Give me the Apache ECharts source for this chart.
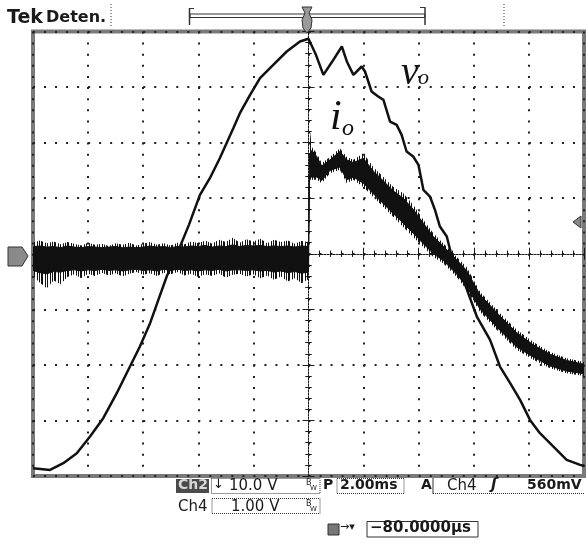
<!DOCTYPE html>
<html>
<head>
<meta charset="utf-8">
<script src="https://cdn.jsdelivr.net/npm/echarts/dist/echarts.min.js"></script>
<style>
  html, body { margin: 0; padding: 0; background: #fff; }
  #scope { width: 586px; height: 543px; }
</style>
</head>
<body>
<div id="scope"></div>
<script>
// time in ms from trigger (2 ms/div), amplitude in divisions
const voT = [-10, -9.38, -8.9, -8.41, -7.93, -7.45, -6.96, -6.48, -6.12, -5.75, -5.45, -5.14, -4.77, -4.34,
  -3.94, -3.58, -3.22, -2.73, -2.49, -2.12, -1.76, -1.28, -0.79, -0.31, 0,
  0.27, 0.54, 0.85, 1.21, 1.4, 1.63, 1.93, 2.05, 2.29, 2.53, 2.72, 2.96, 3.2, 3.38, 3.56, 3.8, 3.99,
  4.17, 4.41, 4.59, 4.77, 5.02, 5.2, 5.62, 6.11, 6.59, 6.95, 7.32, 7.68, 8.04, 8.4, 8.89, 9.37, 9.86, 10];
const voV = [-3.86, -3.89, -3.77, -3.59, -3.29, -2.96, -2.51, -2.03, -1.67, -1.25, -0.83, -0.4, 0, 0.52,
  1.06, 1.36, 1.72, 2.26, 2.53, 2.86, 3.16, 3.4, 3.64, 3.82, 3.87,
  3.58, 3.22, 3.45, 3.73, 3.45, 3.22, 3.37, 3.28, 2.92, 2.83, 2.77, 2.38, 2.32, 2.14, 1.84, 1.75, 1.6,
  1.15, 1.03, 0.79, 0.49, 0.31, -0.05, -0.47, -1.13, -1.55, -2.03, -2.33, -2.63, -2.99, -3.23, -3.47, -3.71, -3.8, -3.82];

// i_o noise band: time, spike extent (hi/lo) and dense core (coreHi/coreLo)
const ioT = [-10, -9.75, -9.5, -9.25, -9, -8.75, -8.5, -8.25, -8, -7.75, -7.5, -7.25, -7, -6.75, -6.5, -6.25,
  -6, -5.75, -5.5, -5.25, -5, -4.75, -4.5, -4.25, -4, -3.75, -3.5, -3.25, -3, -2.75, -2.5, -2.25,
  -2, -1.75, -1.5, -1.25, -1, -0.75, -0.5, -0.25, 0,
  0.04, 0.12, 0.3, 0.48, 0.78, 1.14, 1.39, 1.63, 1.99, 2.35, 2.72, 3.08, 3.44, 3.8, 4.17, 4.53, 4.89,
  5.38, 5.74, 6.23, 6.95, 7.56, 8.16, 8.77, 9.37, 10];
const ioHi = [0.2, 0.24, 0.19, 0.22, 0.17, 0.21, 0.18, 0.15, 0.2, 0.16, 0.18, 0.14, 0.19, 0.16, 0.2, 0.15,
  0.18, 0.21, 0.16, 0.19, 0.15, 0.2, 0.17, 0.22, 0.19, 0.24, 0.18, 0.25, 0.21, 0.29, 0.2, 0.26,
  0.22, 0.27, 0.19, 0.25, 0.21, 0.24, 0.18, 0.23, 0.21,
  2.28, 1.92, 1.81, 1.63, 1.74, 1.9, 1.74, 1.69, 1.81, 1.56, 1.38, 1.2, 1.09, 0.88, 0.61, 0.37, 0.19,
  -0.06, -0.24, -0.69, -1.07, -1.37, -1.59, -1.77, -1.88, -1.95];
const ioLo = [-0.4, -0.52, -0.62, -0.48, -0.55, -0.42, -0.37, -0.44, -0.36, -0.4, -0.34, -0.39, -0.35, -0.41, -0.36, -0.33,
  -0.38, -0.35, -0.4, -0.34, -0.37, -0.33, -0.39, -0.36, -0.42, -0.37, -0.4, -0.35, -0.43, -0.38, -0.36, -0.41,
  -0.37, -0.44, -0.39, -0.47, -0.41, -0.5, -0.44, -0.53, -0.46,
  1.33, 1.33, 1.33, 1.27, 1.45, 1.51, 1.27, 1.33, 1.2, 1.02, 0.84, 0.66, 0.48, 0.3, 0.12, -0.06, -0.17,
  -0.42, -0.65, -1.05, -1.43, -1.73, -1.91, -2.06, -2.15, -2.2];
const ioCoreHi = [0.13, 0.14, 0.12, 0.13, 0.11, 0.14, 0.12, 0.11, 0.13, 0.12, 0.11, 0.12, 0.13, 0.11, 0.12, 0.11,
  0.12, 0.14, 0.12, 0.13, 0.11, 0.13, 0.12, 0.14, 0.13, 0.15, 0.12, 0.14, 0.13, 0.16, 0.13, 0.15,
  0.14, 0.15, 0.13, 0.14, 0.13, 0.14, 0.12, 0.14, 0.13,
  1.8, 1.86, 1.75, 1.58, 1.69, 1.84, 1.69, 1.64, 1.72, 1.49, 1.31, 1.13, 1.0, 0.8, 0.55, 0.31, 0.14,
  -0.11, -0.3, -0.74, -1.12, -1.42, -1.64, -1.81, -1.92, -1.99];
const ioCoreLo = [-0.3, -0.34, -0.36, -0.32, -0.33, -0.3, -0.29, -0.31, -0.29, -0.3, -0.28, -0.3, -0.29, -0.31, -0.29, -0.28,
  -0.3, -0.29, -0.31, -0.28, -0.3, -0.28, -0.3, -0.29, -0.31, -0.29, -0.3, -0.28, -0.31, -0.29, -0.29, -0.3,
  -0.29, -0.31, -0.3, -0.33, -0.31, -0.34, -0.32, -0.35, -0.33,
  1.38, 1.38, 1.38, 1.32, 1.5, 1.56, 1.33, 1.38, 1.27, 1.08, 0.9, 0.72, 0.55, 0.37, 0.18, 0.0, -0.12,
  -0.37, -0.59, -1.0, -1.38, -1.68, -1.86, -2.02, -2.11, -2.16];

const chart = echarts.init(document.getElementById('scope'), null, { renderer: 'canvas' });

const ink = '#1a1a1a';
const mono = '"DejaVu Sans", sans-serif';

// vertical hair pattern for the noisy fringe of the current trace
const hair = document.createElement('canvas');
hair.width = 13;
hair.height = 4;
const hctx = hair.getContext('2d');
hctx.fillStyle = '#111';
[0, 2, 3, 6, 8, 11].forEach((x) => hctx.fillRect(x, 0, 1, 4));

const gridBox = { left: 33, top: 31.5, right: 2, bottom: 67 };

const xAxisBase = {
  type: 'value', min: -10, max: 10, interval: 2,
  axisLabel: { show: false },
  axisLine: { show: false },
  splitLine: { show: false }
};
const yAxisBase = {
  type: 'value', min: -4, max: 4, interval: 1,
  axisLabel: { show: false },
  axisLine: { show: false },
  splitLine: { show: false }
};
const edgeTick = {
  axisTick: { show: true, inside: true, length: 6, lineStyle: { color: ink, width: 1 } },
  minorTick: { show: true, splitNumber: 5, length: 3, lineStyle: { color: ink, width: 1 } }
};
const crossTick = (inside) => ({
  axisTick: { show: true, inside: inside, length: 4, lineStyle: { color: ink, width: 1 } },
  minorTick: { show: true, splitNumber: 5, length: 3, lineStyle: { color: ink, width: 1 } }
});

function txt(text, left, top, size, extra) {
  return {
    type: 'text', left: left, top: top, z: 10,
    style: Object.assign({ text: text, font: 'bold ' + size + 'px ' + mono, fill: ink }, extra || {})
  };
}
function box(x, y, w, h, dash) {
  return {
    type: 'rect', shape: { x: x, y: y, width: w, height: h }, z: 9,
    style: { fill: 'none', stroke: '#333', lineWidth: 1, lineDash: dash ? [1, 1] : null }
  };
}
function seg(x1, y1, x2, y2, w, dash) {
  return {
    type: 'line', shape: { x1: x1, y1: y1, x2: x2, y2: y2 }, z: 9,
    style: { stroke: '#333', lineWidth: w || 1, lineDash: dash || null }
  };
}
function band(api, top, bottom) {
  const pts = [];
  for (let i = 0; i < ioT.length; i++) pts.push(api.coord([ioT[i], top[i]]));
  for (let j = ioT.length - 1; j >= 0; j--) pts.push(api.coord([ioT[j], bottom[j]]));
  return pts;
}

chart.setOption({
  animation: false,
  backgroundColor: '#fff',
  grid: [
    Object.assign({ show: true, borderColor: '#7a7a7a', borderWidth: 4 }, gridBox),
    Object.assign({}, gridBox),
    Object.assign({}, gridBox)
  ],
  xAxis: [
    Object.assign({}, xAxisBase, edgeTick, {
      gridIndex: 0, position: 'bottom',
      splitLine: { show: true, lineStyle: { color: '#222', width: 2, type: [2, 9.11] } }
    }),
    Object.assign({}, xAxisBase, edgeTick, { gridIndex: 0, position: 'top' }),
    Object.assign({}, xAxisBase, crossTick(true), {
      gridIndex: 1,
      axisLine: { show: true, onZero: true, lineStyle: { color: ink, width: 1, type: [2, 1] } }
    }),
    Object.assign({}, xAxisBase, crossTick(false), {
      gridIndex: 2, axisLine: { show: false, onZero: true }
    })
  ],
  yAxis: [
    Object.assign({}, yAxisBase, edgeTick, {
      gridIndex: 0, position: 'left',
      splitLine: { show: true, lineStyle: { color: '#222', width: 2, type: [2, 9.02] } }
    }),
    Object.assign({}, yAxisBase, edgeTick, { gridIndex: 0, position: 'right' }),
    Object.assign({}, yAxisBase, crossTick(true), {
      gridIndex: 1,
      axisLine: { show: true, onZero: true, lineStyle: { color: ink, width: 1, type: [2, 1] } }
    }),
    Object.assign({}, yAxisBase, crossTick(false), {
      gridIndex: 2, axisLine: { show: false, onZero: true }
    })
  ],
  series: [
    {
      name: 'io',
      type: 'custom',
      xAxisIndex: 0, yAxisIndex: 0,
      clip: true,
      data: [[0, 0]],
      renderItem: function (params, api) {
        return {
          type: 'group',
          children: [
            {
              type: 'polygon',
              shape: { points: band(api, ioHi, ioLo) },
              style: { fill: { image: hair, repeat: 'repeat' }, stroke: null }
            },
            {
              type: 'polygon',
              shape: { points: band(api, ioCoreHi, ioCoreLo) },
              style: { fill: '#111', stroke: '#111', lineWidth: 1 }
            }
          ]
        };
      },
      z: 3
    },
    {
      name: 'vo',
      type: 'line',
      xAxisIndex: 0, yAxisIndex: 0,
      data: voT.map((t, i) => [t, voV[i]]),
      showSymbol: false,
      lineStyle: { color: '#111', width: 2.5 },
      z: 4
    }
  ],
  graphic: [
    // header
    txt('Tek', 7, 9, 19),
    txt('Deten.', 46, 10, 16),
    seg(111, 4, 111, 27, 1, [1, 2]),
    seg(504, 4, 504, 27, 1, [1, 2]),
    // record bracket + trigger position marker
    box(190, 14, 235, 3.5, false),
    seg(189.5, 8, 189.5, 25, 1.5),
    seg(189.5, 8.5, 194, 8.5, 1),
    seg(425, 7, 425, 25, 1.5),
    seg(420, 7.5, 425, 7.5, 1),
    {
      type: 'polygon', z: 11,
      shape: { points: [[302, 7], [312, 7], [309, 13], [312, 20], [311, 28], [307, 33], [303, 28], [302, 20], [305, 13]] },
      style: { fill: '#9a9a9a', stroke: '#333', lineWidth: 1 }
    },
    // channel 2 ground marker
    {
      type: 'polygon', z: 11,
      shape: { points: [[8, 247], [22, 247], [28, 256], [22, 266], [8, 266]] },
      style: { fill: '#8a8a8a', stroke: '#333', lineWidth: 1 }
    },
    txt('2', 11, 248, 13, { fill: '#fff' }),
    // trigger level marker
    {
      type: 'polygon', z: 11,
      shape: { points: [[573, 222], [581, 216], [581, 228]] },
      style: { fill: '#888', stroke: '#333', lineWidth: 1 }
    },
    // trace labels
    { type: 'text', left: 401, top: 53, z: 12, style: { text: 'v', font: 'italic 40px "Liberation Serif", serif', fill: '#111' } },
    { type: 'text', left: 418, top: 67, z: 12, style: { text: 'o', font: 'italic 22px "Liberation Serif", serif', fill: '#111' } },
    { type: 'text', left: 330, top: 97, z: 12, style: { text: 'i', font: 'italic 42px "Liberation Serif", serif', fill: '#111' } },
    { type: 'text', left: 342, top: 117, z: 12, style: { text: 'o', font: 'italic 24px "Liberation Serif", serif', fill: '#111' } },
    // readout row 1
    { type: 'rect', shape: { x: 176, y: 479, width: 33, height: 14 }, z: 9, style: { fill: '#4a4a4a' } },
    txt('Ch2', 178, 478.5, 14, { fill: '#d8d8d8' }),
    box(211.5, 478.5, 108.5, 15, true),
    txt('\u2193', 213, 478.5, 13, { font: '13px ' + mono }),
    txt('10.0 V', 229, 478.5, 14, { font: '15px ' + mono }),
    txt('B', 306, 479, 8, { font: '8px ' + mono }),
    txt('W', 310, 485, 7, { font: '7px ' + mono }),
    txt('P', 323, 478.5, 14),
    box(337, 478.5, 67, 15, true),
    txt('2.00ms', 340, 478.5, 14),
    txt('A', 421, 478.5, 14),
    seg(433, 478, 433, 494, 1),
    seg(433, 493.5, 585, 493.5, 1, [1, 1]),
    txt('Ch4', 447, 478.5, 14, { font: '15px ' + mono }),
    txt('\u0283', 491, 478, 15, { font: 'bold italic 15px ' + mono }),
    txt('560mV', 527, 478.5, 14),
    // readout row 2
    txt('Ch4', 178, 499.5, 14, { font: '15px ' + mono }),
    box(212, 498.5, 108, 15, true),
    txt('1.00 V', 231, 499.5, 14, { font: '15px ' + mono }),
    txt('B', 306, 500, 8, { font: '8px ' + mono }),
    txt('W', 310, 506, 7, { font: '7px ' + mono }),
    // readout row 3
    { type: 'rect', shape: { x: 328, y: 524, width: 11, height: 11 }, z: 9, style: { fill: '#777', stroke: '#333', lineWidth: 1 } },
    txt('\u2192\u25BE', 340, 522, 11, { font: '11px ' + mono }),
    box(367, 521.5, 111, 15.5, false),
    txt('\u221280.0000\u00B5s', 370, 521, 15)
  ]
});
</script>
</body>
</html>
